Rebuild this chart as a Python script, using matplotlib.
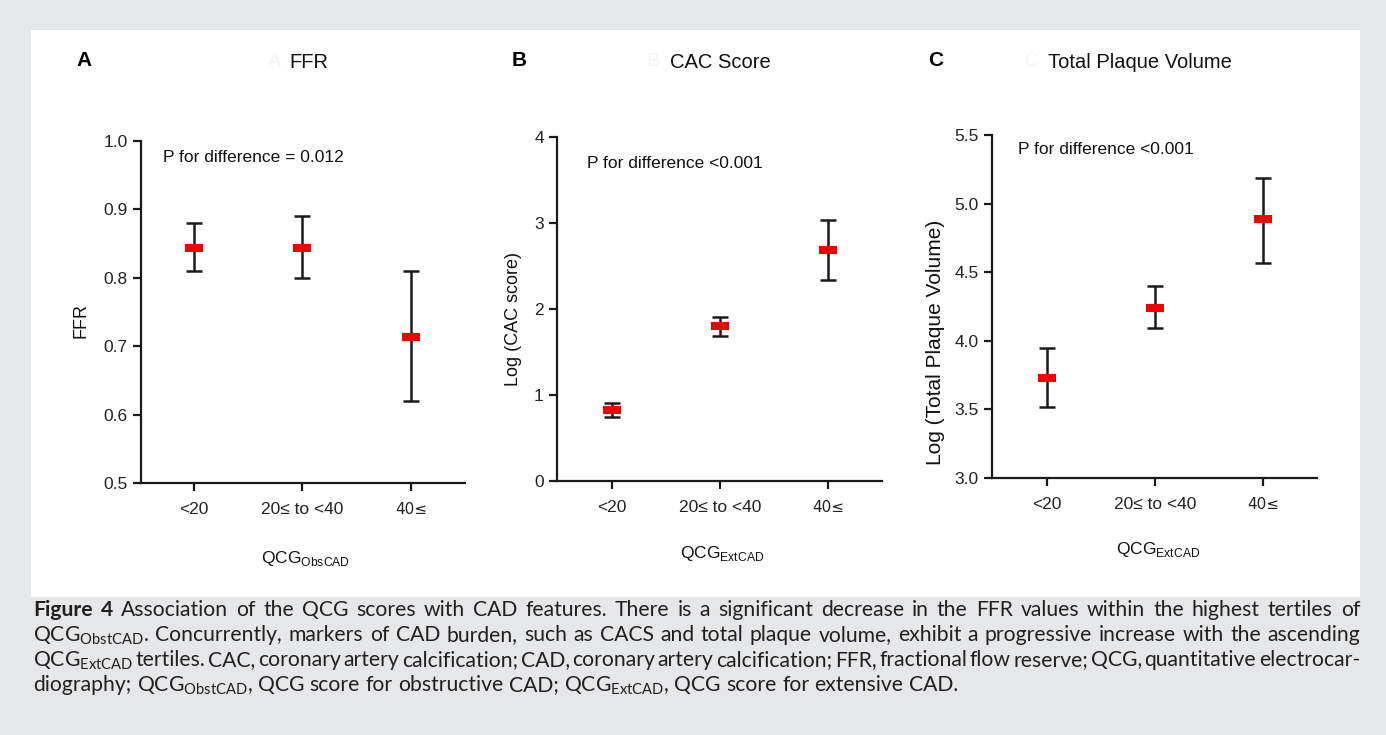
import matplotlib
matplotlib.use("Agg")
import matplotlib.pyplot as plt
from matplotlib.patches import Rectangle

# figure size in pixels
W, H = 1386, 735

categories = ['<20', '20\u2264 to <40', '40\u2264']

ffr_mean = [0.843, 0.843, 0.713]
ffr_low = [0.81, 0.80, 0.62]
ffr_high = [0.88, 0.89, 0.81]

cac_mean = [0.83, 1.80, 2.69]
cac_low = [0.75, 1.69, 2.34]
cac_high = [0.91, 1.91, 3.03]

tpv_mean = [3.73, 4.24, 4.89]
tpv_low = [3.52, 4.09, 4.57]
tpv_high = [3.95, 4.40, 5.19]

ffr_ticks = [0.5, 0.6, 0.7, 0.8, 0.9, 1.0]
cac_ticks = [0, 1, 2, 3, 4]
tpv_ticks = [3.0, 3.5, 4.0, 4.5, 5.0, 5.5]

caption_lines = [
    "**Figure** **4** Association of the QCG scores with CAD features. There is a significant decrease in the FFR values within the highest tertiles of",
    r"QCG$_{\mathregular{ObstCAD}}$. Concurrently, markers of CAD burden, such as CACS and total plaque volume, exhibit a progressive increase with the ascending",
    r"QCG$_{\mathregular{ExtCAD}}$ tertiles. CAC, coronary artery calcification; CAD, coronary artery calcification; FFR, fractional flow reserve; QCG, quantitative electrocar-",
    r"diography; QCG$_{\mathregular{ObstCAD}}$, QCG score for obstructive CAD; QCG$_{\mathregular{ExtCAD}}$, QCG score for extensive CAD.",
]

SANS = ['Liberation Sans', 'DejaVu Sans']
CAP_FONT = ['Lato', 'DejaVu Sans']
BG = '#e6e7e8'
INK = '#1a1a1a'
TXT = '#111111'


def box(x0, y0, x1, y1):
    return [x0 / W, 1 - y1 / H, (x1 - x0) / W, (y1 - y0) / H]


def fx(x):
    return x / W


def fy(y):
    return 1 - y / H


fig = plt.figure(figsize=(W / 100, H / 100), dpi=100, facecolor=BG)
fig.patches.append(Rectangle((fx(31), fy(597)), fx(1360) - fx(31), fy(30) - fy(597),
                             transform=fig.transFigure, facecolor='white',
                             edgecolor='none', zorder=-5))


def panel(rect, means, low, high, ylim, yticks, fmt, xlim):
    ax = fig.add_axes(rect)
    ax.patch.set_alpha(0)
    x = list(range(len(categories)))
    yerr = [[m - l for m, l in zip(means, low)], [h - m for m, h in zip(means, high)]]
    ax.errorbar(x, means, yerr=yerr, fmt='none', ecolor=INK, elinewidth=1.8,
                capsize=5.5, capthick=1.8, zorder=2)
    ax.plot(x, means, linestyle='none', marker='_', markersize=13,
            markeredgewidth=5.8, color='#f20000', zorder=3)
    ax.set_xlim(*xlim)
    ax.set_ylim(*ylim)
    ax.set_yticks(yticks)
    ax.set_yticklabels([fmt % v for v in yticks])
    ax.set_xticks(x)
    ax.set_xticklabels(categories)
    for s in ['top', 'right']:
        ax.spines[s].set_visible(False)
    for s in ['left', 'bottom']:
        ax.spines[s].set_linewidth(1.6)
        ax.spines[s].set_color(INK)
    ax.tick_params(direction='out', length=5.5, width=1.6, color=INK,
                   labelcolor='#222222', labelsize=12.5)
    ax.tick_params(axis='x', pad=8)
    ax.tick_params(axis='y', pad=4)
    for lab in ax.get_xticklabels() + ax.get_yticklabels():
        lab.set_family(SANS)
    last = ax.get_xticklabels()[2]
    last.set_family(['DejaVu Sans'])
    last.set_fontsize(11)
    return ax


panel(box(141, 141, 465, 483), ffr_mean, ffr_low, ffr_high,
      (0.5, 1.0), ffr_ticks, '%.1f', (-0.49, 2.5))
panel(box(557, 137, 882, 481), cac_mean, cac_low, cac_high,
      (0, 4), cac_ticks, '%d', (-0.51, 2.5))
panel(box(992, 135, 1317, 478), tpv_mean, tpv_low, tpv_high,
      (3.0, 5.5), tpv_ticks, '%.1f', (-0.51, 2.5))

# panel letters, titles, faint ghost letters
for letter, lx, title, tx, gx in [('A', 76, 'FFR', 289, 268),
                                  ('B', 512, 'CAC Score', 670, 646),
                                  ('C', 928, 'Total Plaque Volume', 1048, 1025)]:
    fig.text(fx(lx), fy(60), letter, family=SANS, weight='bold', fontsize=15,
             color='black', va='center', ha='left')
    fig.text(fx(gx), fy(62), letter, family=SANS, fontsize=14,
             color='#f4f4f4', va='center', ha='left')
    fig.text(fx(tx), fy(62), title, family=SANS, fontsize=14.5,
             color=TXT, va='center', ha='left')

# P-value notes
fig.text(fx(163), fy(158), 'P for difference = 0.012', family=SANS, fontsize=12.5,
         color=TXT, va='center')
fig.text(fx(587), fy(163), 'P for difference <0.001', family=SANS, fontsize=12.5,
         color=TXT, va='center')
fig.text(fx(1018), fy(150), 'P for difference <0.001', family=SANS, fontsize=12.5,
         color=TXT, va='center')

# axis labels
fig.text(fx(306), fy(563), r'QCG$_{\mathregular{ObsCAD}}$', family=SANS,
         fontsize=12.5, color=TXT, ha='center', va='baseline')
fig.text(fx(722), fy(558), r'QCG$_{\mathregular{ExtCAD}}$', family=SANS,
         fontsize=12.5, color=TXT, ha='center', va='baseline')
fig.text(fx(1158), fy(554), r'QCG$_{\mathregular{ExtCAD}}$', family=SANS,
         fontsize=12.5, color=TXT, ha='center', va='baseline')

fig.text(fx(81), fy(320), 'FFR', family=SANS, fontsize=13, rotation=90,
         color=TXT, ha='center', va='center')
fig.text(fx(514), fy(319), 'Log (CAC score)', family=SANS, fontsize=13,
         rotation=90, color=TXT, ha='center', va='center')
fig.text(fx(935), fy(342), 'Log (Total Plaque Volume)', family=SANS,
         fontsize=15, rotation=90, color=TXT, ha='center', va='center')

# caption, justified word by word
renderer = fig.canvas.get_renderer()
CAP_LEFT, CAP_RIGHT = 33, 1360
CAP_COLOR = '#231f20'


def make_words(line, size):
    texts = []
    for w in line.split(' '):
        bold = w.startswith('**')
        t = fig.text(0, 0, w.strip('*'), family=CAP_FONT, fontsize=size,
                     weight='bold' if bold else 'normal', color=CAP_COLOR,
                     va='baseline', ha='left')
        texts.append(t)
    widths = [t.get_window_extent(renderer).width for t in texts]
    return texts, widths


def space_width(size):
    a = fig.text(0, 0, 'n n', family=CAP_FONT, fontsize=size)
    b = fig.text(0, 0, 'nn', family=CAP_FONT, fontsize=size)
    sw = a.get_window_extent(renderer).width - b.get_window_extent(renderer).width
    a.remove()
    b.remove()
    return sw


def word_sum(line, size):
    tmp, wd = make_words(line, size)
    for t in tmp:
        t.remove()
    return sum(wd), len(wd) - 1


# pick a font size: last line as wide as in the reference, but keep at least
# half of a normal space in the tight justified lines
size0 = 13
sp0 = space_width(size0)
fits = []
for i, line in enumerate(caption_lines):
    ws, ng = word_sum(line, size0)
    if i < len(caption_lines) - 1:
        fits.append(size0 * (CAP_RIGHT - CAP_LEFT) / (ws + 0.5 * sp0 * ng))
    else:
        fits.append(size0 * 942 / (ws + sp0 * ng))
cap_size = min(fits)
sp = space_width(cap_size)

for i, line in enumerate(caption_lines):
    texts, widths = make_words(line, cap_size)
    if i < len(caption_lines) - 1:
        gap = (CAP_RIGHT - CAP_LEFT - sum(widths)) / (len(texts) - 1)
    else:
        gap = sp
    x = CAP_LEFT
    for t, w in zip(texts, widths):
        t.set_position((fx(x), fy(616 + 25 * i)))
        x += w + gap

fig.savefig('out.png', dpi=100, facecolor=BG)
